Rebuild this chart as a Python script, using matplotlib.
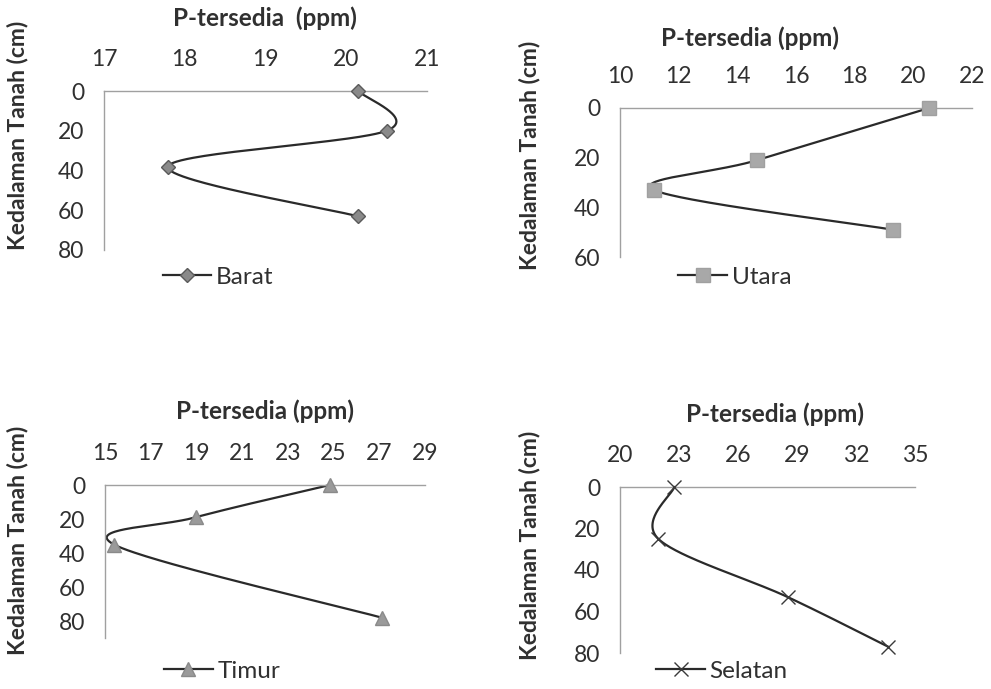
import numpy as np
import matplotlib
matplotlib.use("Agg")
import matplotlib.pyplot as plt

plt.rcParams['font.family'] = ['Lato', 'DejaVu Sans']

W, H = 991, 689

# Soil depth profiles of available phosphorus per sampling direction
barat_p = [20.15, 20.5, 17.79, 20.14]
barat_depth = [0, 20, 38, 63]

utara_p = [20.54, 14.68, 11.16, 19.3]
utara_depth = [0, 21, 33, 49]

timur_p = [24.84, 18.97, 15.39, 27.1]
timur_depth = [0, 19, 35, 78]

selatan_p = [22.76, 21.95, 28.52, 33.64]
selatan_depth = [0, 25, 53, 77]

xlabel = "P-tersedia (ppm)"
ylabel = "Kedalaman Tanah (cm)"

line_col = "#2a2a2a"
axis_col = "#a0a0a0"
text_col = "#303030"

TICK_FS = 16.5
TITLE_FS = 17.5
YLAB_FS = 16.5
LEG_FS = 17.5

fig = plt.figure(figsize=(W / 100, H / 100), dpi=100)


def px_axes(left, top, right, bottom):
    return fig.add_axes([left / W, 1 - bottom / H, (right - left) / W, (bottom - top) / H])


def smooth_curve(ax, xs, ys, n=60):
    """Excel-style smoothed scatter line (Catmull-Rom Bezier in display space)."""
    pts = ax.transData.transform(np.column_stack([xs, ys]))
    out = [pts[0]]
    m = len(pts)
    for i in range(m - 1):
        p0 = pts[i - 1] if i > 0 else pts[i]
        p1 = pts[i]
        p2 = pts[i + 1]
        p3 = pts[i + 2] if i + 2 < m else pts[i + 1]
        b1 = p1 + (p2 - p0) / 6.0
        b2 = p2 - (p3 - p1) / 6.0
        t = np.linspace(0, 1, n)[1:, None]
        seg = ((1 - t) ** 3) * p1 + 3 * ((1 - t) ** 2) * t * b1 + 3 * (1 - t) * t ** 2 * b2 + t ** 3 * p2
        out.extend(seg)
    out = np.array(out)
    return ax.transData.inverted().transform(out)


def panel(box, xlim, xticks, ylim, yticks, xs, ys, marker, ms, mfc, mec, name,
          title_xy, ylab_xy, leg_xy, title_text=xlabel):
    ax = px_axes(*box)
    ax.set_xlim(*xlim)
    ax.set_ylim(ylim[1], ylim[0])
    ax.set_xticks(xticks)
    ax.set_yticks(yticks)
    ax.xaxis.tick_top()
    for s in ["right", "bottom"]:
        ax.spines[s].set_visible(False)
    for s in ["left", "top"]:
        ax.spines[s].set_color(axis_col)
        ax.spines[s].set_linewidth(1.0)
    ax.tick_params(axis="both", length=0, labelsize=TICK_FS, colors=text_col)
    ax.tick_params(axis="x", pad=15)
    ax.tick_params(axis="y", pad=14)
    ax.patch.set_alpha(0)
    fig.canvas.draw()
    curve = smooth_curve(ax, xs, ys)
    ax.plot(curve[:, 0], curve[:, 1], color=line_col, lw=1.6, clip_on=False, zorder=2)
    ax.plot(xs, ys, ls="none", marker=marker, ms=ms, mfc=mfc, mec=mec, mew=1.0,
            clip_on=False, zorder=3)
    handle, = ax.plot([], [], color=line_col, lw=1.6, marker=marker, ms=ms, mfc=mfc,
                      mec=mec, mew=1.0)
    fig.text(title_xy[0] / W, 1 - title_xy[1] / H, title_text, ha="center", va="center",
             fontsize=TITLE_FS, fontweight="bold", color=text_col)
    fig.text(ylab_xy[0] / W, 1 - ylab_xy[1] / H, ylabel, ha="center", va="center",
             rotation=90, fontsize=YLAB_FS, fontweight="bold", color=text_col)
    ax.legend([handle], [name], loc="center", bbox_to_anchor=(leg_xy[0] / W, 1 - leg_xy[1] / H),
              bbox_transform=fig.transFigure, frameon=False, fontsize=LEG_FS, handlelength=2.0,
              handletextpad=0.2, labelcolor=text_col)
    return ax


panel((104, 91, 427, 250), (17, 21), [17, 18, 19, 20, 21], (0, 80), [0, 20, 40, 60, 80],
      barat_p, barat_depth, "D", 7, "#8a8a8a", "#5a5a5a", "Barat",
      (265, 18), (18, 135), (218, 277), title_text="P-tersedia  (ppm)")

panel((620, 108, 972, 257), (10, 22), [10, 12, 14, 16, 18, 20, 22], (0, 60), [0, 20, 40, 60],
      utara_p, utara_depth, "s", 9.5, "#a8a8a8", "#a0a0a0", "Utara",
      (750, 38), (530, 155), (735, 277))

panel((105, 485, 425, 638), (15, 29), [15, 17, 19, 21, 23, 25, 27, 29], (0, 90), [0, 20, 40, 60, 80],
      timur_p, timur_depth, "^", 9.5, "#9a9a9a", "#8a8a8a", "Timur",
      (265, 411), (18, 540), (222, 671))

panel((620, 487, 915, 653), (20, 35), [20, 23, 26, 29, 32, 35], (0, 80), [0, 20, 40, 60, 80],
      selatan_p, selatan_depth, "x", 9.5, "#3a3a3a", "#3a3a3a", "Selatan",
      (775, 414), (530, 545), (722, 671))

fig.savefig("out.png", dpi=100)
